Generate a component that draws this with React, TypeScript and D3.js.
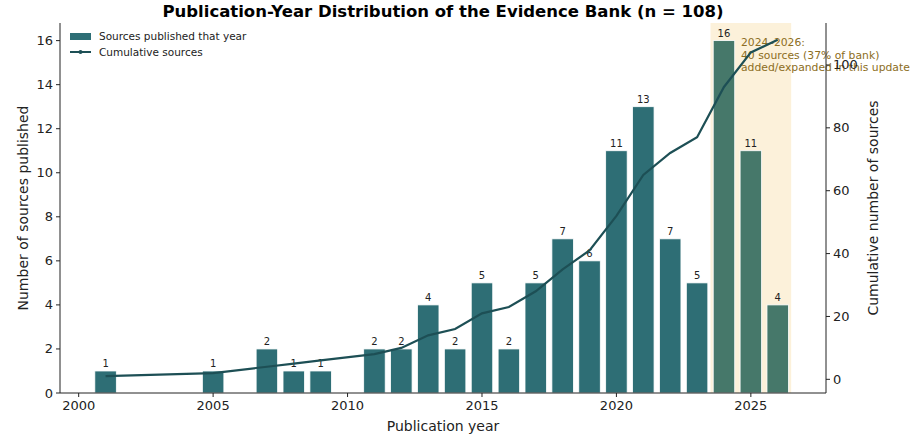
import React from "react";
import * as d3 from "d3";

const years = [2001, 2005, 2007, 2008, 2009, 2011, 2012, 2013, 2014, 2015, 2016, 2017, 2018, 2019, 2020, 2021, 2022, 2023, 2024, 2025, 2026];
const counts = [1, 1, 2, 1, 1, 2, 2, 4, 2, 5, 2, 5, 7, 6, 11, 13, 7, 5, 16, 11, 4];
const xTicks = [2000, 2005, 2010, 2015, 2020, 2025];
const leftTicks = [0, 2, 4, 6, 8, 10, 12, 14, 16];
const rightTicks = [0, 20, 40, 60, 80, 100];
const highlightRange = [2023.5, 2026.5];
const annotationLines = ["2024–2026:", "40 sources (37% of bank)", "added/expanded in this update"];

const W = 924, H = 441;
const M = { left: 60, right: 826, top: 23, bottom: 393 };
const FONT = "DejaVu Sans, sans-serif";

export default function App() {
  const cumulative = d3.cumsum(counts);
  const total = cumulative[cumulative.length - 1];
  const x = d3.scaleLinear().domain([1999.305, 2027.795]).range([M.left, M.right]);
  const yL = d3.scaleLinear().domain([0, 16.8]).range([M.bottom, M.top]);
  const yR = d3.scaleLinear().domain([-4.35, 113.35]).range([M.bottom, M.top]);
  const bw = x(2000.8) - x(2000);
  const line = d3.line<number>().x((_, i) => x(years[i])).y((d) => yR(d));
  const axisColor = "#222";

  return (
    <svg width={W} height={H} style={{ position: "absolute", left: 0, top: 0, background: "#fff" }} fontFamily={FONT}>
      <text x={443} y={17} textAnchor="middle" fontSize={16.5} fontWeight="bold" fill="#000">
        Publication-Year Distribution of the Evidence Bank (n = {total})
      </text>
      {/* highlight span */}
      <rect x={x(highlightRange[0])} y={M.top} width={x(highlightRange[1]) - x(highlightRange[0])} height={M.bottom - M.top} fill="#fcf1da" />
      {/* bars */}
      {years.map((yr, i) => (
        <g key={yr}>
          <rect
            x={x(yr) - bw / 2}
            y={yL(counts[i])}
            width={bw}
            height={yL(0) - yL(counts[i])}
            fill={yr >= 2024 ? "#46786a" : "#2e6e75"}
            stroke="#ffffff"
            strokeWidth={0.8}
          />
          <text x={x(yr)} y={yL(counts[i]) - 3.5} textAnchor="middle" fontSize={10} fill="#222">
            {counts[i]}
          </text>
        </g>
      ))}
      {/* annotation */}
      {annotationLines.map((t, i) => (
        <text key={i} x={741} y={46 + i * 12.5} fontSize={10.8} fill="#8c6d22">
          {t}
        </text>
      ))}
      {/* cumulative line */}
      <path d={line(cumulative) || ""} fill="none" stroke="#1d4f55" strokeWidth={2.2} />
      {cumulative.map((c, i) => (
        <circle key={i} cx={x(years[i])} cy={yR(c)} r={2.4} fill="#1d4f55" />
      ))}
      {/* axes spines */}
      <line x1={M.left} x2={M.left} y1={M.top} y2={M.bottom} stroke={axisColor} strokeWidth={1} />
      <line x1={M.right} x2={M.right} y1={M.top} y2={M.bottom} stroke={axisColor} strokeWidth={1} />
      <line x1={M.left} x2={M.right} y1={M.bottom} y2={M.bottom} stroke={axisColor} strokeWidth={1} />
      {/* x ticks */}
      {xTicks.map((t) => (
        <g key={t}>
          <line x1={x(t)} x2={x(t)} y1={M.bottom} y2={M.bottom + 4} stroke={axisColor} />
          <text x={x(t)} y={M.bottom + 17} textAnchor="middle" fontSize={13} fill="#222">
            {t}
          </text>
        </g>
      ))}
      {/* left ticks */}
      {leftTicks.map((t) => (
        <g key={t}>
          <line x1={M.left - 4} x2={M.left} y1={yL(t)} y2={yL(t)} stroke={axisColor} />
          <text x={M.left - 7} y={yL(t) + 4.5} textAnchor="end" fontSize={13} fill="#222">
            {t}
          </text>
        </g>
      ))}
      {/* right ticks */}
      {rightTicks.map((t) => (
        <g key={t}>
          <line x1={M.right} x2={M.right + 4} y1={yR(t)} y2={yR(t)} stroke={axisColor} />
          <text x={M.right + 7} y={yR(t) + 4.5} textAnchor="start" fontSize={13} fill="#222">
            {t}
          </text>
        </g>
      ))}
      {/* axis labels */}
      <text x={(M.left + M.right) / 2} y={431} textAnchor="middle" fontSize={14} fill="#222">
        Publication year
      </text>
      <text transform={`translate(28,${(M.top + M.bottom) / 2}) rotate(-90)`} textAnchor="middle" fontSize={14} fill="#222">
        Number of sources published
      </text>
      <text transform={`translate(878,${(M.top + M.bottom) / 2}) rotate(-90)`} textAnchor="middle" fontSize={14} fill="#222">
        Cumulative number of sources
      </text>
      {/* legend */}
      <rect x={70} y={33} width={21} height={7} fill="#2e6e75" />
      <text x={99} y={40} fontSize={10.5} fill="#222">Sources published that year</text>
      <line x1={70} x2={91} y1={52} y2={52} stroke="#1d4f55" strokeWidth={2} />
      <circle cx={80.5} cy={52} r={2} fill="#1d4f55" />
      <text x={99} y={56} fontSize={10.5} fill="#222">Cumulative sources</text>
    </svg>
  );
}
